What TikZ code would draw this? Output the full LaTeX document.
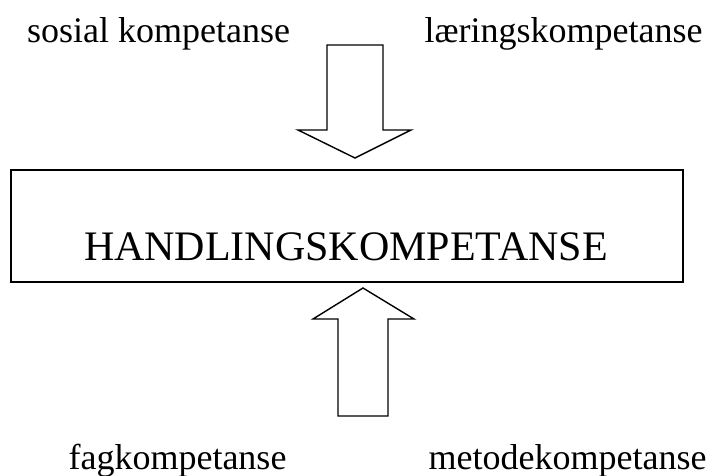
\documentclass[tikz,border=0pt]{standalone}
\usepackage{fontspec}
\setmainfont{Liberation Serif}
\begin{document}
\begin{tikzpicture}[x=1pt,y=-1pt,
  outline/.style={draw=black,line width=1.4pt,line join=miter},
  label/.style={inner sep=0pt,anchor=base,font=\fontsize{36}{40}\selectfont},
  title/.style={inner sep=0pt,anchor=base,font=\fontsize{42}{46}\selectfont}]
\useasboundingbox (0,0) rectangle (720,475);
% competence labels
\node[label] (sosial) at (158.5,42) {sosial kompetanse};
\node[label] (laering) at (563.5,42) {læringskompetanse};
\node[label] (fag) at (177.5,469) {fagkompetanse};
\node[label] (metode) at (567.5,469) {metodekompetanse};
% central box
\draw[outline] (11,170) rectangle (683,282);
\node[title] (handling) at (346,260) {HANDLINGSKOMPETANSE};
% block arrow pointing down onto the box
\draw[outline] (327,45) -- (383,45) -- (383,130) -- (411,130) -- (355,158)
  -- (298,130) -- (327,130) -- cycle;
% block arrow pointing up into the box
\draw[outline] (338,416) -- (388,416) -- (388,319) -- (414,319) -- (363,288)
  -- (313,319) -- (338,319) -- cycle;
\end{tikzpicture}
\end{document}
